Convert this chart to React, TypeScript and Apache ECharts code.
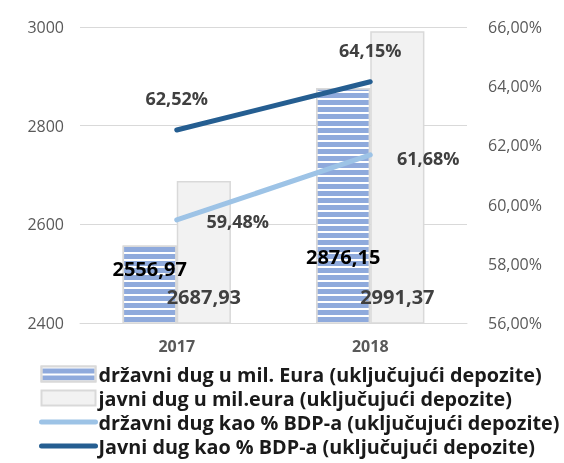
import React, { useEffect, useRef } from "react";
import * as echarts from "echarts";

const categories = ["2017", "2018"];
const drzavniDug = [2556.97, 2876.15];
const javniDug = [2687.93, 2991.37];
const drzavniPct = [59.48, 61.68];
const javniPct = [62.52, 64.15];

const seriesNames = [
  "državni dug u mil. Eura (uključujući depozite)",
  "javni dug u mil.eura (uključujući depozite)",
  "državni dug kao % BDP-a (uključujući depozite)",
  "Javni dug kao % BDP-a (uključujući depozite)",
];

const FONT = "'Open Sans', sans-serif";
const comma = (v: number, d: number) => v.toFixed(d).replace(".", ",");

export default function App() {
  const ref = useRef<HTMLDivElement>(null);
  useEffect(() => {
    if (!ref.current) return;
    const chart = echarts.init(ref.current, null, { renderer: "svg" });
    const stripedDist = [45, 57];
    const javniPctOffsets = [[0, -32], [0, -32]];
    const drzPctOffsets = [[61, 1], [58, 3]];
    chart.setOption({
      animation: false,
      textStyle: { fontFamily: FONT },
      grid: { left: 80, right: 97, top: 27, bottom: 140 },
      legend: {
        orient: "vertical",
        left: 39,
        top: 364,
        padding: 0,
        itemWidth: 54,
        itemHeight: 15,
        itemGap: 4,
        textStyle: {
          fontFamily: FONT,
          fontSize: 19.8,
          lineHeight: 20,
          fontWeight: "bold",
          color: "#1a1a1a",
          padding: [0, 0, 0, -2],
        },
        data: [
          { name: seriesNames[0], icon: "rect" },
          { name: seriesNames[1], icon: "rect" },
          { name: seriesNames[2], itemStyle: { opacity: 0 }, lineStyle: { width: 5, cap: "round" } },
          { name: seriesNames[3], itemStyle: { opacity: 0 }, lineStyle: { width: 5, cap: "round" } },
        ],
      },
      xAxis: {
        type: "category",
        data: categories,
        axisLine: { lineStyle: { color: "#d9d9d9", width: 1 } },
        axisTick: { show: false },
        axisLabel: { fontFamily: FONT, fontSize: 16, fontWeight: "bold", color: "#595959", margin: 15 },
      },
      yAxis: [
        {
          type: "value",
          min: 2400,
          max: 3000,
          interval: 200,
          axisLine: { show: false },
          axisTick: { show: false },
          splitLine: { lineStyle: { color: "#d9d9d9", width: 1 } },
          axisLabel: {
            fontFamily: FONT,
            fontSize: 16,
            color: "#595959",
            margin: 16,
            formatter: (v: number) => String(v),
          },
        },
        {
          type: "value",
          min: 56,
          max: 66,
          interval: 2,
          position: "right",
          axisLine: { show: false },
          axisTick: { show: false },
          splitLine: { show: false },
          axisLabel: {
            fontFamily: FONT,
            fontSize: 16,
            color: "#595959",
            margin: 21,
            formatter: (v: number) => comma(v, 2) + "%",
          },
        },
      ],
      series: [
        {
          name: seriesNames[0],
          type: "bar",
          barGap: "0%",
          barCategoryGap: "44%",
          itemStyle: {
            color: "#8faadc",
            borderColor: "#d9d9d9",
            borderWidth: 1.5,
            decal: {
              symbol: "rect",
              symbolSize: 1,
              color: "#ffffff",
              dashArrayX: [1, 0],
              dashArrayY: [1.5, 4.5],
              rotation: 0,
            },
          },
          data: drzavniDug.map((v, i) => ({
            value: v,
            label: {
              show: true,
              position: "insideBottom",
              distance: stripedDist[i],
              fontFamily: FONT,
              fontSize: 20,
              fontWeight: "bold",
              color: "#000000",
              formatter: () => comma(v, 2),
            },
          })),
        },
        {
          name: seriesNames[1],
          type: "bar",
          itemStyle: { color: "#f2f2f2", borderColor: "#d9d9d9", borderWidth: 1.5 },
          label: {
            show: true,
            position: "insideBottom",
            distance: 17,
            fontFamily: FONT,
            fontSize: 20,
            fontWeight: "bold",
            color: "#404040",
            formatter: (p: any) => comma(p.value, 2),
          },
          data: javniDug,
        },
        {
          name: seriesNames[2],
          type: "line",
          yAxisIndex: 1,
          symbol: "circle",
          symbolSize: 1,
          showSymbol: true,
          lineStyle: { color: "#9dc3e6", width: 5, cap: "round" },
          itemStyle: { color: "#9dc3e6" },
          data: drzavniPct.map((v, i) => ({
            value: v,
            label: {
              show: true,
              position: "inside",
              offset: drzPctOffsets[i],
              fontFamily: FONT,
              fontSize: 18,
              fontWeight: "bold",
              color: "#404040",
              formatter: () => comma(v, 2) + "%",
            },
          })),
        },
        {
          name: seriesNames[3],
          type: "line",
          yAxisIndex: 1,
          symbol: "circle",
          symbolSize: 1,
          showSymbol: true,
          lineStyle: { color: "#255e91", width: 5, cap: "round" },
          itemStyle: { color: "#255e91" },
          data: javniPct.map((v, i) => ({
            value: v,
            label: {
              show: true,
              position: "inside",
              offset: javniPctOffsets[i],
              fontFamily: FONT,
              fontSize: 18,
              fontWeight: "bold",
              color: "#404040",
              formatter: () => comma(v, 2) + "%",
            },
          })),
        },
      ],
    });
    return () => chart.dispose();
  }, []);
  return (
    <div
      ref={ref}
      style={{ position: "fixed", left: 0, top: 0, width: 564, height: 463 }}
    />
  );
}
